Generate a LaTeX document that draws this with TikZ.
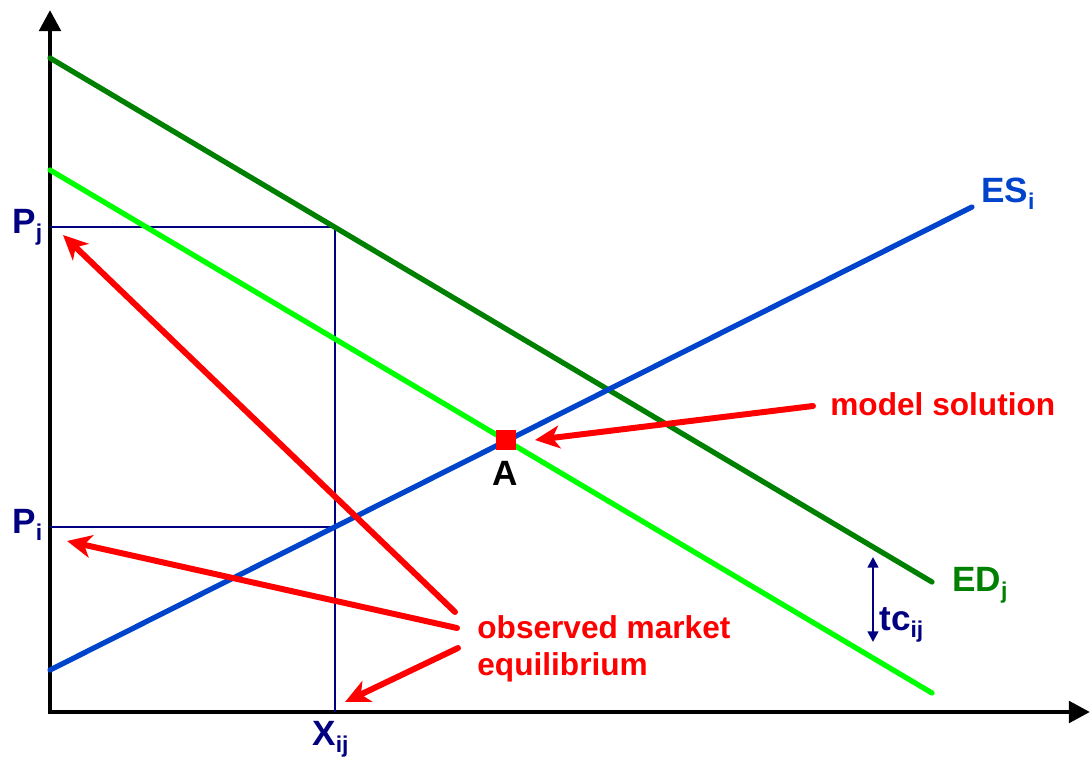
\documentclass[tikz,border=0pt]{standalone}
\usepackage{fontspec}
\setmainfont{Liberation Sans}
\usepackage{xcolor}
\usepackage{tikz}
\usetikzlibrary{positioning,arrows.meta,calc}
\definecolor{navyline}{RGB}{0,0,128}
\definecolor{darkgreen}{RGB}{0,128,0}
\definecolor{lightgreen}{RGB}{0,255,0}
\definecolor{supplyblue}{RGB}{0,68,204}
\definecolor{brightred}{RGB}{255,0,0}
\newcommand{\lowidx}[1]{\raisebox{-0.4ex}{\fontsize{13}{13}\selectfont #1}}
\tikzset{
  axisline/.style={line width=2.8pt, -{Triangle[length=12pt,width=12pt]}},
  curveline/.style={line width=3pt, line cap=round},
  guideline/.style={navyline, line width=1.1pt},
  pointer/.style={brightred, line width=3.4pt, line cap=round, -{Stealth[length=14pt,width=13pt,inset=4pt]}},
  axislabel/.style={navyline, font=\fontsize{20}{22}\selectfont\bfseries, inner sep=0pt},
  redlabel/.style={brightred, font=\fontsize{18}{21}\selectfont\bfseries, inner sep=0pt}
}

\begin{document}
\begin{tikzpicture}[x=0.02cm, y=-0.02cm]
  \useasboundingbox (0,0) rectangle (1090,758);
  % axes
  \coordinate (O) at (50,712);
  \coordinate (ytop) at (50,10);
  \coordinate (xend) at (1090,712);
  \draw[axisline] (O) -- (ytop);
  \draw[axisline] ($(O)+(-2,0)$) -- (xend);

  % observed prices and quantity
  \coordinate (pj) at (50,227);
  \coordinate (pi) at (50,527);
  \coordinate (xij) at (335,712);
  \coordinate (djx) at (335,227);
  \coordinate (sjx) at (335,527);
  \draw[guideline] (pj) -- (djx) -- (xij);
  \draw[guideline] (pi) -- (sjx);

  % excess demand and supply
  \coordinate (ed0) at (50,58);
  \coordinate (ed1) at (932,582);
  \coordinate (edt0) at (50,170);
  \coordinate (edt1) at (932,693);
  \coordinate (es0) at (50,670);
  \coordinate (es1) at (972,207);
  \draw[curveline, darkgreen] (ed0) -- (ed1);
  \draw[curveline, lightgreen] (edt0) -- (edt1);
  \draw[curveline, supplyblue] (es0) -- (es1);

  % model solution point
  \node[fill=brightred, minimum size=0.4cm, inner sep=0pt] (solA) at (506,440) {};
  \node[font=\fontsize{20}{22}\selectfont\bfseries, inner sep=0pt, anchor=base] (labA) at (505,485) {A};

  % labels
  \node[axislabel, anchor=base west] (labPj) at (12,233) {P\lowidx{j}};
  \node[axislabel, anchor=base west] (labPi) at (12,533) {P\lowidx{i}};
  \node[axislabel, anchor=base west] (labX) at (312,745) {X\lowidx{ij}};
  \node[axislabel, supplyblue, anchor=base west] (labES) at (981,202) {ES\lowidx{i}};
  \node[axislabel, darkgreen, anchor=base west] (labED) at (952,591) {ED\lowidx{j}};
  \node[axislabel, anchor=base west] (labtc) at (879,630) {tc\lowidx{ij}};

  % transport cost gap
  \coordinate (tctop) at (873,557);
  \coordinate (tcbot) at (873,642);
  \draw[navyline, line width=1.4pt, {Triangle[length=6pt,width=6pt]}-{Triangle[length=6pt,width=6pt]}] (tctop) -- (tcbot);

  % annotations
  \node[redlabel, anchor=base west] (labModel) at (830,415) {model solution};
  \node[redlabel, anchor=base west, align=left] (labObs) at (477,675) {observed market\\equilibrium};
  \coordinate (mstart) at (813,406);
  \coordinate (mtip) at (535,440);
  \draw[pointer] (mstart) -- (mtip);
  \coordinate (o1) at (455,612);
  \coordinate (o2) at (457,628);
  \coordinate (o3) at (458,648);
  \coordinate (t1) at (63,235);
  \coordinate (t2) at (67,541);
  \coordinate (t3) at (345,702);
  \draw[pointer] (o1) -- (t1);
  \draw[pointer] (o2) -- (t2);
  \draw[pointer] (o3) -- (t3);
\end{tikzpicture}
\end{document}
